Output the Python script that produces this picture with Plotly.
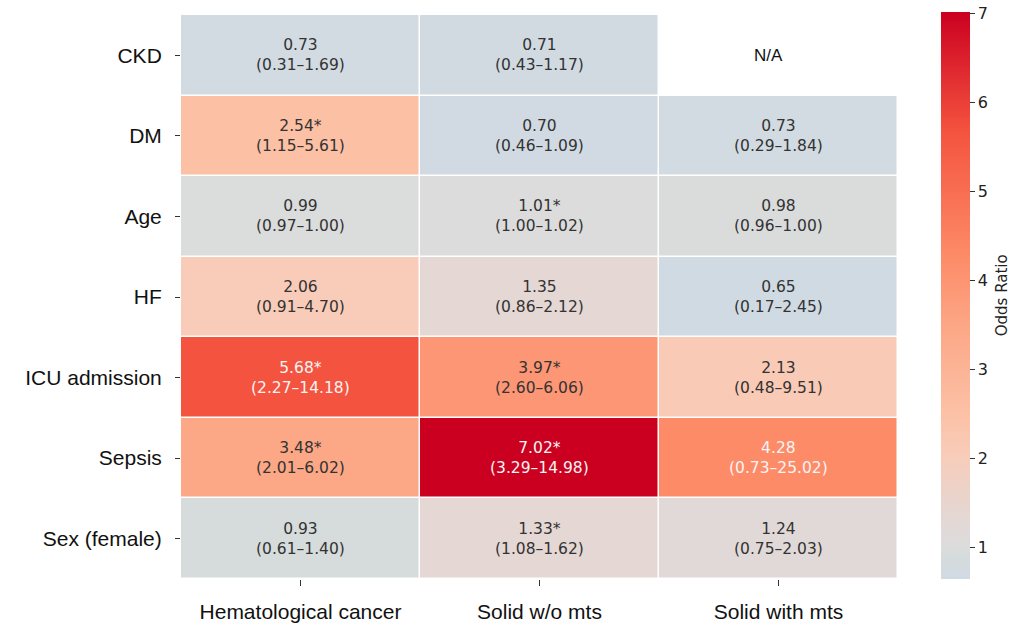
import plotly.graph_objects as go

# Groups (columns) and risk factors (rows, top to bottom)
groups = ["Hematological cancer", "Solid w/o mts", "Solid with mts"]
factors = ["CKD", "DM", "Age", "HF", "ICU admission", "Sepsis", "Sex (female)"]

# Odds ratios per group (None = not available)
or_hem = [0.73, 2.54, 0.99, 2.06, 5.68, 3.48, 0.93]
or_solid = [0.71, 0.70, 1.01, 1.35, 3.97, 7.02, 1.33]
or_mts = [None, 0.73, 0.98, 0.65, 2.13, 4.28, 1.24]

# 95% confidence intervals
ci_hem = ["0.31–1.69", "1.15–5.61", "0.97–1.00", "0.91–4.70", "2.27–14.18", "2.01–6.02", "0.61–1.40"]
ci_solid = ["0.43–1.17", "0.46–1.09", "1.00–1.02", "0.86–2.12", "2.60–6.06", "3.29–14.98", "1.08–1.62"]
ci_mts = [None, "0.29–1.84", "0.96–1.00", "0.17–2.45", "0.48–9.51", "0.73–25.02", "0.75–2.03"]

# Statistically significant cells
sig_hem = [False, True, False, False, True, True, False]
sig_solid = [False, False, True, False, True, True, True]
sig_mts = [False, False, False, False, False, False, False]

or_cols = [or_hem, or_solid, or_mts]
ci_cols = [ci_hem, ci_solid, ci_mts]
sig_cols = [sig_hem, sig_solid, sig_mts]

zmin, zmax = 0.65, 7.02

def frac(v):
    return (v - zmin) / (zmax - zmin)

colorscale = [
    [0.0, "#d0dae3"],
    [frac(0.93), "#d6dcdb"],
    [frac(1.0), "#dcdcdc"],
    [frac(1.35), "#e4d7d4"],
    [frac(2.06), "#f8ccb8"],
    [frac(2.54), "#fcc0a5"],
    [frac(3.48), "#fca786"],
    [frac(4.28), "#fd8b68"],
    [frac(5.68), "#f4533f"],
    [1.0, "#cb0020"],
]

z = [[or_cols[c][r] for c in range(len(groups))] for r in range(len(factors))]

fig = go.Figure(
    go.Heatmap(
        z=z,
        x=groups,
        y=factors,
        zmin=zmin,
        zmax=zmax,
        colorscale=colorscale,
        xgap=1.5,
        ygap=1.5,
        hoverongaps=False,
        colorbar=dict(
            xref="container",
            x=941 / 1011,
            xanchor="left",
            xpad=0,
            yref="container",
            y=1 - 13 / 623,
            yanchor="top",
            ypad=0,
            lenmode="pixels",
            len=567,
            thickness=29,
            outlinewidth=0,
            ticks="outside",
            ticklen=5,
            tickcolor="#333333",
            tickvals=[1, 2, 3, 4, 5, 6, 7],
            tickfont=dict(family="DejaVu Sans", size=16, color="#222222"),
            title=dict(text="Odds Ratio", side="right",
                       font=dict(family="DejaVu Sans", size=15, color="#222222")),
        ),
    )
)

for c, g in enumerate(groups):
    for r, f in enumerate(factors):
        v = or_cols[c][r]
        if v is None:
            fig.add_annotation(
                x=g, y=f, text="N/A", showarrow=False, xshift=-10,
                font=dict(family="Liberation Sans", size=17, color="#111111"),
            )
            continue
        star = "*" if sig_cols[c][r] else ""
        txt = f"{v:.2f}{star}<br>({ci_cols[c][r]})"
        col = "#f4f4f4" if v >= 4.2 else "#333333"
        fig.add_annotation(
            x=g, y=f, text=txt, showarrow=False,
            font=dict(family="DejaVu Sans", size=15.5, color=col),
        )

fig.update_xaxes(
    side="bottom",
    automargin=False,
    ticks="outside",
    ticklen=6,
    tickcolor="#333333",
    ticklabelstandoff=8,
    tickfont=dict(family="Liberation Sans", size=21, color="#111111"),
    showgrid=False,
    zeroline=False,
)
fig.update_yaxes(
    autorange="reversed",
    automargin=False,
    ticks="outside",
    ticklen=5,
    tickcolor="#333333",
    ticklabelstandoff=9,
    tickfont=dict(family="Liberation Sans", size=21, color="#111111"),
    showgrid=False,
    zeroline=False,
)

fig.update_layout(
    width=1011,
    height=623,
    margin=dict(l=181, r=113, t=15, b=44, autoexpand=False),
    plot_bgcolor="white",
    paper_bgcolor="white",
)

fig.write_html("out.html")
